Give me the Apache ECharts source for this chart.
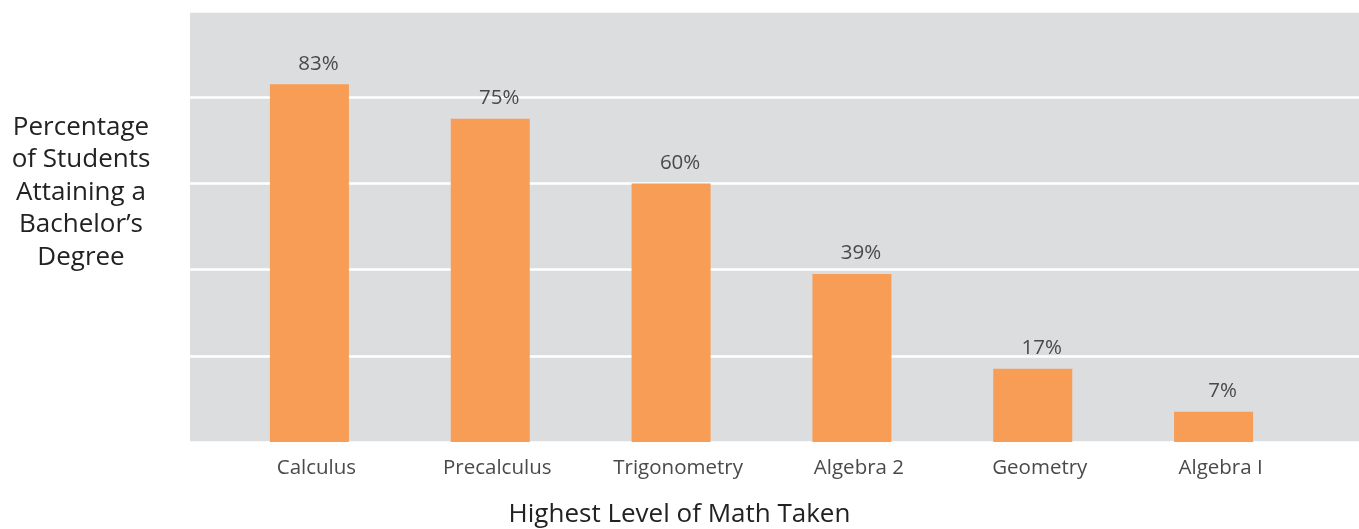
<!DOCTYPE html>
<html>
<head>
<meta charset="utf-8">
<script src="https://cdn.jsdelivr.net/npm/echarts@6/dist/echarts.min.js"></script>
<style>html,body{margin:0;padding:0;background:#fff}#c{width:1359px;height:529px}</style>
</head>
<body>
<div id="c"></div>
<script>
const categories = ['Calculus', 'Precalculus', 'Trigonometry', 'Algebra 2', 'Geometry', 'Algebra I'];
const values = [83, 75, 60, 39, 17, 7];
const yTitle = 'Percentage\nof Students\nAttaining a\nBachelor\u2019s\nDegree';
const xTitle = 'Highest Level of Math Taken';

const FONT = '"Open Sans", "Noto Sans", sans-serif';
const chart = echarts.init(document.getElementById('c'), null, {renderer: 'canvas'});
chart.setOption({
  animation: false,
  textStyle: {fontFamily: FONT},
  title: {
    text: xTitle, left: 'center', top: 497,
    textStyle: {fontFamily: FONT, fontSize: 26, fontWeight: 'normal', color: '#222'}
  },
  graphic: [{
    type: 'text', x: 81, y: 111,
    style: {text: yTitle, fontFamily: FONT, fontSize: 26, lineHeight: 32.5, textAlign: 'center', fill: '#222'}
  }],
  grid: [
    {left: 190, right: 0, top: 11, bottom: 87, show: true, backgroundColor: '#DCDDDF', borderWidth: 0},
    {left: 219, width: 1085, top: 11, bottom: 87}
  ],
  xAxis: [
    {gridIndex: 0, type: 'category', data: categories, show: false},
    {gridIndex: 1, type: 'category', data: categories,
     axisLine: {show: false}, axisTick: {show: false},
     axisLabel: {fontFamily: FONT, fontSize: 20.5, color: '#4a4a4a', margin: 16, padding: [0, 0, 0, 14]}}
  ],
  yAxis: [
    {gridIndex: 0, type: 'value', min: 0, max: 100, interval: 20,
     axisLabel: {show: false}, axisLine: {show: false}, axisTick: {show: false},
     splitLine: {show: true, lineStyle: {color: '#ffffff', width: 2.5}}},
    {gridIndex: 1, type: 'value', min: 0, max: 100, interval: 20, show: false, splitLine: {show: false}}
  ],
  series: [{
    type: 'bar', xAxisIndex: 1, yAxisIndex: 1, data: values, barWidth: 79,
    itemStyle: {color: '#F79D56'},
    label: {show: true, position: 'top', distance: 10, formatter: '{c}%',
            fontFamily: FONT, fontSize: 20.5, color: '#4a4a4a', offset: [9, 0]}
  }]
});
</script>
</body>
</html>
